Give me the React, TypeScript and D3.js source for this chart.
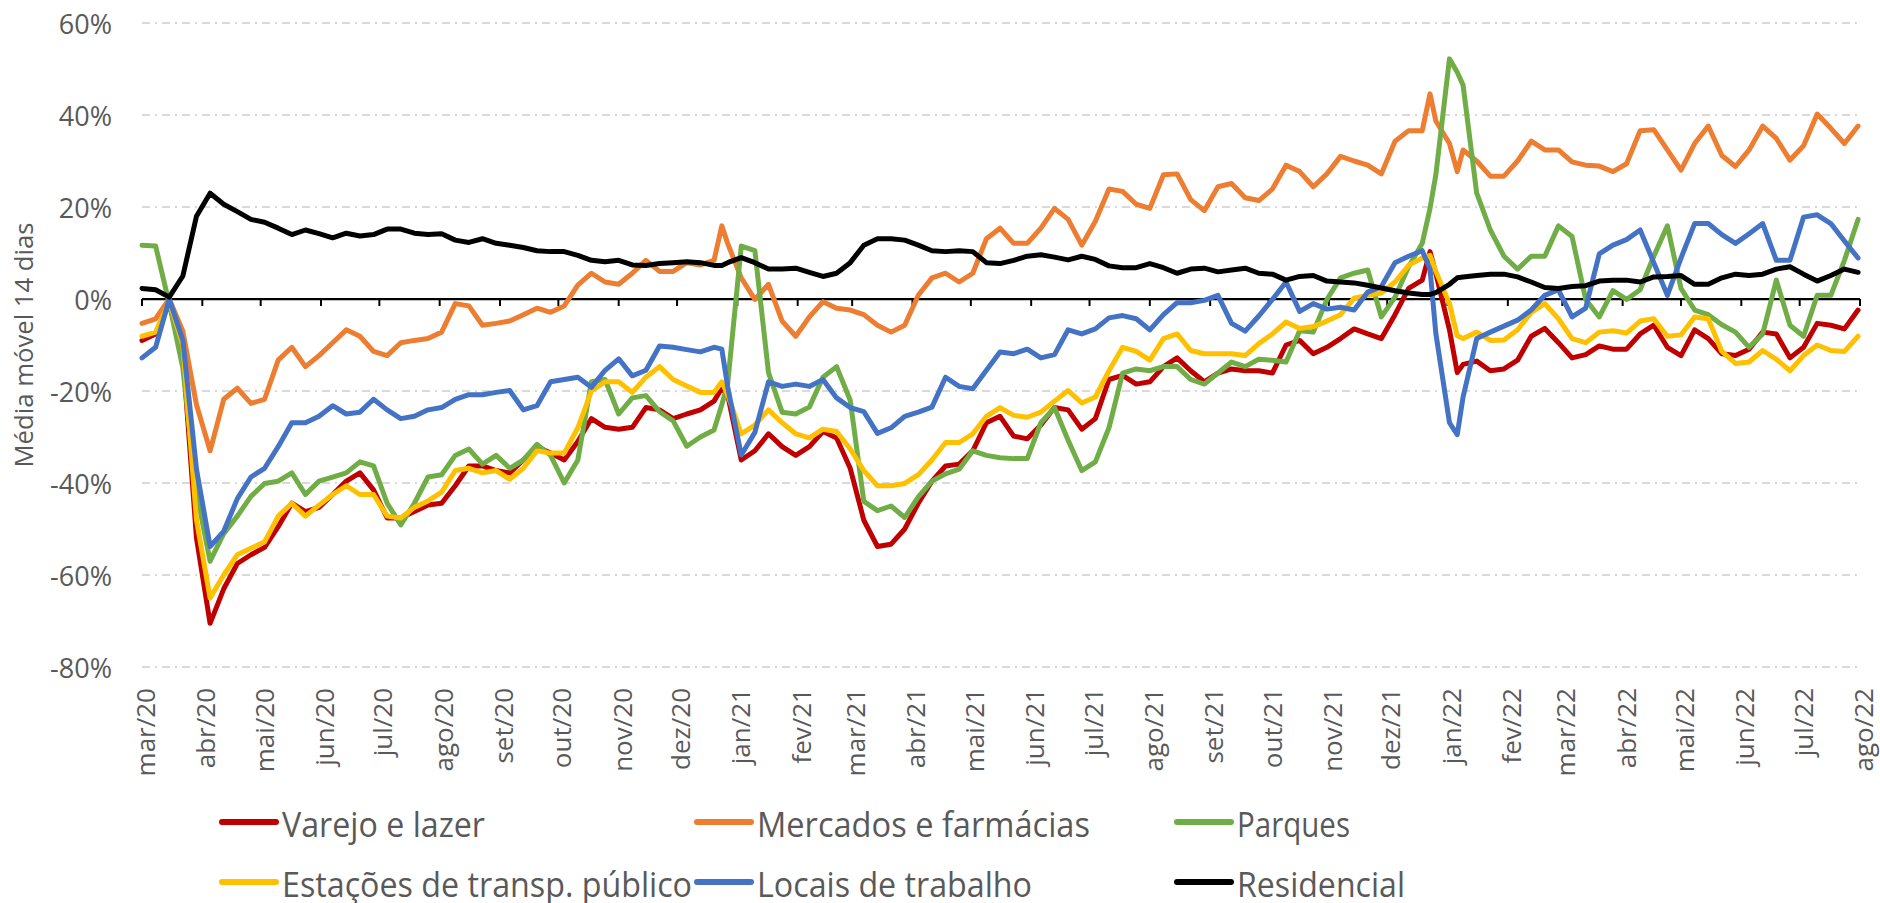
import * as d3 from 'd3'

// dias desde 01/03/2020 (amostra semanal + alguns picos)
const dayOffsets = [
  0, 7, 14, 21, 28, 35, 42, 49, 56, 63, 70, 77, 84, 91, 98, 105, 112, 119, 126, 133, 140, 147, 154, 161, 168, 175, 182, 189, 196, 203, 210, 217, 224,
  231, 238, 245, 252, 259, 266, 273, 280, 287, 294, 298, 301, 308, 315, 322, 329, 336, 343, 350, 357, 364, 371, 378, 385, 392, 399, 406, 413, 420, 427, 434, 441,
  448, 455, 462, 469, 476, 483, 490, 497, 504, 511, 518, 525, 532, 539, 546, 553, 560, 567, 574, 581, 588, 595, 602, 609, 616, 623, 630, 637, 644, 651, 658, 662, 665,
  672, 676, 679, 686, 693, 700, 707, 714, 721, 728, 735, 742, 749, 756, 763, 770, 777, 784, 791, 798, 805, 812, 819, 826, 833, 840, 847, 854, 861, 868, 875, 882,
]

const varejo = [
  -9, -7.6, -1, -12, -52, -70.5, -63, -57.5, -55.6, -54, -49.5, -44.4, -46.2, -45.3, -42.5, -39.6, -37.8, -41.5, -47.6, -47.6, -46.2, -44.8, -44.4, -40.6, -36.3, -36.3, -37.3, -37.8, -35, -32.1, -33.5, -35, -31,
  -26, -27.9, -28.3, -27.9, -23.6, -24.1, -26, -25, -24.1, -22.2, -19.4, -20.8, -35, -33, -29.3, -32.1, -34, -32.1, -28.8, -30.2, -36.8, -48.1, -53.8, -53.3, -50, -44.4, -39.6, -36.3, -35.9, -33, -26.9, -25.5,
  -29.8, -30.4, -27.4, -23.6, -24.1, -28.3, -26, -17.5, -16.6, -18.5, -18, -14.7, -12.8, -15.6, -18, -16.1, -15.2, -15.6, -15.6, -16.1, -10, -9, -11.9, -10.5, -8.6, -6.5, -7.6, -8.6, -3.4, 2.3, 4.1, 10.3, 5.5,
  -6.7, -16, -14.2, -13.5, -15.6, -15.2, -13.3, -8.1, -6.4, -9.5, -12.8, -12.1, -10.2, -10.9, -10.9, -7.6, -5.7, -10.5, -12.3, -6.7, -8.6, -11.9, -12.3, -10.9, -7.2, -7.6, -12.8, -10.5, -5.3, -5.7, -6.5, -2.4,
]

const mercados = [
  -5.3, -4.3, 0, -7, -23, -33, -21.8, -19.4, -22.7, -21.8, -13.3, -10.5, -14.7, -12.3, -9.5, -6.7, -8.1, -11.4, -12.3, -9.5, -9, -8.6, -7.2, -1, -1.5, -5.7, -5.3, -4.8, -3.4, -2, -2.9, -1.5, 3,
  5.6, 3.7, 3.2, 5.6, 8.4, 6, 6, 7.9, 7.4, 8.4, 15.9, 12.1, 4.6, -0.1, 3.2, -4.8, -8.1, -3.9, -0.6, -2, -2.4, -3.4, -5.7, -7.2, -5.7, 0.8, 4.6, 5.6, 3.7, 5.6, 13.1, 15.4,
  12.1, 12.1, 15.4, 19.7, 17.3, 11.7, 16.9, 23.9, 23.4, 20.6, 19.7, 27, 27.2, 21.6, 19.2, 24.4, 25.1, 22, 21.4, 23.9, 29.1, 27.7, 24.4, 27.2, 31, 30, 29.1, 27.2, 34.3, 36.6, 36.6, 44.6, 38.7,
  33.8, 27.7, 32.4, 30, 26.7, 26.7, 30, 34.3, 32.4, 32.4, 29.8, 29.1, 28.9, 27.7, 29.4, 36.6, 36.8, 32.4, 28, 33.8, 37.6, 31.2, 28.8, 32.4, 37.6, 34.9, 30.2, 33.3, 40.2, 37.1, 33.8, 37.6,
]

const parques = [
  11.7, 11.5, -1, -15, -42, -57, -51, -47.2, -42.9, -40.1, -39.6, -37.8, -42.5, -39.6, -38.7, -37.8, -35.4, -36.3, -44.4, -49.1, -44.4, -38.7, -38.2, -34, -32.6, -35.9, -34, -36.8, -35, -31.6, -34, -40, -35,
  -18, -17.5, -25, -21.5, -21, -24.5, -26.5, -32, -30, -28.5, -23, -18.5, 11.5, 10.5, -16, -24.6, -25, -23.5, -17, -14.7, -22, -44, -46, -45, -47.5, -43, -39.6, -38, -37, -33, -34, -34.5,
  -34.7, -34.7, -26.9, -23.6, -30.7, -37.3, -35.4, -28, -16.1, -15.2, -15.6, -14.7, -14.7, -17.5, -18.5, -16.1, -13.7, -14.7, -13.1, -13.3, -13.7, -6.9, -7.2, -0.1, 4.6, 5.6, 6.3, -3.9, 0.4, 7, 12.1, 19.7, 27,
  52.2, 49.3, 46.5, 23, 15, 9.3, 6.5, 9.3, 9.3, 15.9, 13.6, -0.1, -3.9, 1.8, -0.1, 2, 9.3, 15.9, 2.3, -2.4, -3.4, -5.6, -7.2, -10.5, -7.6, 4.1, -5.7, -8.1, 0.8, 0.8, 8.4, 17.3,
]

const estacoes = [
  -8.1, -7.2, -0.5, -10, -48, -65, -60, -55.6, -54.2, -52.8, -47.2, -44.4, -47.2, -44.8, -42.5, -40.6, -42.5, -42.5, -47.2, -47.6, -45.3, -43.9, -42, -37.3, -36.8, -37.8, -37.3, -39.2, -36.8, -33, -33.5, -33.5, -28,
  -20, -18, -18, -20.3, -17, -14.7, -17.5, -18.9, -20.3, -20.3, -18, -20.8, -29.3, -27.4, -24.1, -26.9, -29.3, -30.2, -28.3, -28.8, -32.6, -37.3, -40.6, -40.6, -40.1, -38.2, -35, -31.2, -31.2, -29.3, -25.5, -23.6,
  -25.3, -25.7, -24.6, -22.2, -19.9, -22.6, -21.3, -15.6, -10.5, -11.4, -13.3, -8.6, -7.6, -11.2, -11.9, -11.9, -11.9, -12.3, -9.7, -7.6, -5, -6.4, -6, -4.8, -3.4, 0.2, 0.8, 1.3, 3.7, 7.3, 8.9, 9.5, 6,
  -1, -8, -8.6, -7.2, -9, -8.9, -6.7, -2.9, -1, -4.3, -8.6, -9.5, -7.2, -6.9, -7.4, -4.8, -4.3, -8.1, -7.8, -3.9, -4.3, -11.4, -14, -13.7, -11.2, -13.1, -15.6, -12.3, -10, -11.2, -11.4, -8.1,
]

const locais = [
  -12.8, -10.5, 0, -9, -37, -53.8, -50.5, -43.4, -38.7, -36.8, -32.1, -26.9, -26.9, -25.5, -23.2, -25, -24.6, -21.8, -24.1, -26, -25.5, -24.1, -23.6, -21.8, -20.8, -20.8, -20.3, -19.9, -24.1, -23.2, -18, -17.5, -17,
  -19.2, -15.5, -13, -16.7, -15.5, -10.2, -10.5, -11, -11.5, -10.5, -10.9, -19, -33.9, -29, -18, -19, -18.5, -19, -17.5, -21.5, -23.6, -24.5, -29.2, -28, -25.5, -24.6, -23.5, -17, -19, -19.5, -15.5, -11.5,
  -11.9, -10.9, -12.8, -12.1, -6.7, -7.6, -6.5, -4.1, -3.6, -4.3, -6.7, -3.4, -0.8, -0.8, -0.3, 0.8, -5.3, -7, -3.7, -0.1, 3.7, -2.7, -1, -2.2, -1.8, -2.4, 1.5, 2.7, 7.9, 9.3, 10.5, 6.5, -7.5,
  -26.9, -29.5, -21.3, -8.6, -7.2, -5.9, -4.6, -2.4, 0.8, 2, -3.9, -2, 9.8, 11.7, 12.9, 15, 7.9, 0.8, 8.9, 16.4, 16.4, 14, 12.1, 14.2, 16.4, 8.4, 8.4, 17.8, 18.3, 16.4, 12.6, 8.9,
]

const residencial = [
  2.3, 2, 0.4, 5, 18, 23, 20.6, 19, 17.3, 16.7, 15.4, 14, 15, 14.2, 13.3, 14.3, 13.7, 14, 15.2, 15.2, 14.3, 14, 14.2, 12.8, 12.3, 13.1, 12.1, 11.7, 11.2, 10.5, 10.3, 10.3, 9.5,
  8.4, 8.1, 8.4, 7.4, 7.3, 7.7, 7.9, 8.1, 7.9, 7.3, 7.3, 7.9, 9, 7.9, 6.5, 6.5, 6.7, 5.8, 4.9, 5.6, 7.9, 11.7, 13.1, 13.1, 12.8, 11.7, 10.5, 10.3, 10.5, 10.3, 7.9, 7.7,
  8.4, 9.3, 9.6, 9.1, 8.5, 9.3, 8.6, 7.2, 6.8, 6.8, 7.7, 6.8, 5.6, 6.5, 6.7, 5.9, 6.3, 6.7, 5.6, 5.4, 4.1, 4.9, 5.1, 3.9, 3.7, 3.5, 3, 2.4, 1.8, 1.3, 1, 1, 1.4,
  3.2, 4.6, 4.8, 5.1, 5.4, 5.4, 4.8, 3.7, 2.5, 2.3, 2.7, 2.9, 3.9, 4.1, 4.1, 3.7, 4.8, 4.9, 5.1, 3.2, 3.2, 4.6, 5.4, 5.1, 5.4, 6.5, 7, 5.4, 3.9, 5.1, 6.5, 5.8,
]

const seriesNames = ['Varejo e lazer', 'Mercados e farmácias', 'Parques', 'Estações de transp. público', 'Locais de trabalho', 'Residencial']
const seriesValues = [varejo, mercados, parques, estacoes, locais, residencial]
const seriesColors = ['#C00000', '#ED7D31', '#70AD47', '#FFC000', '#4472C4', '#000000']

const monthLabels = [
  'mar/20', 'abr/20', 'mai/20', 'jun/20', 'jul/20', 'ago/20', 'set/20', 'out/20', 'nov/20', 'dez/20',
  'jan/21', 'fev/21', 'mar/21', 'abr/21', 'mai/21', 'jun/21', 'jul/21', 'ago/21', 'set/21', 'out/21', 'nov/21', 'dez/21',
  'jan/22', 'fev/22', 'mar/22', 'abr/22', 'mai/22', 'jun/22', 'jul/22', 'ago/22',
]
const yTicks = [-80, -60, -40, -20, 0, 20, 40, 60]

// larguras do texto da legenda (fonte condensada no original)
const legendTextWidths = [203, 333, 113, 410, 275, 168]

const startDate = new Date(2020, 2, 1)
const endDate = new Date(2022, 7, 1)
const dates = dayOffsets.map((d) => d3.timeDay.offset(startDate, d))

const FONT = "'Open Sans', sans-serif"
const GREY = '#595959'

export default function App() {
  const x = d3.scaleTime().domain([startDate, endDate]).range([142, 1860])
  const y = d3.scaleLinear().domain([-80, 60]).range([667, 23])

  const line = d3
    .line<number>()
    .x((_, i) => x(dates[i]))
    .y((d) => y(d))

  const months = d3.timeMonth.range(startDate, d3.timeDay.offset(endDate, 1))

  const legendCols = [222, 697, 1177]
  const legendRows = [822, 882]

  return (
    <svg
      width={1880}
      height={903}
      style={{ position: 'absolute', left: 0, top: 0, background: '#fff' }}
    >
      {/* grade */}
      {yTicks
        .filter((t) => t !== 0)
        .map((t) => (
          <line
            key={'g' + t}
            x1={142}
            x2={1860}
            y1={y(t)}
            y2={y(t)}
            stroke="#d9d9d9"
            strokeWidth={2}
            strokeDasharray="8,5,2,5"
          />
        ))}

      {/* rótulos eixo y */}
      {yTicks.map((t) => (
        <text
          key={'yl' + t}
          x={112}
          y={y(t)}
          textAnchor="end"
          dominantBaseline="central"
          fontFamily={FONT}
          fontSize={27}
          fill={GREY}
        >
          {t + '%'}
        </text>
      ))}

      <text
        transform={`translate(23,${(y(60) + y(-80)) / 2}) rotate(-90)`}
        textAnchor="middle"
        dominantBaseline="central"
        fontFamily={FONT}
        fontSize={25}
        fill={GREY}
        textLength={245}
        lengthAdjust="spacingAndGlyphs"
      >
        Média móvel 14 dias
      </text>

      {/* eixo x em 0% */}
      <line x1={142} x2={1860} y1={y(0)} y2={y(0)} stroke="#000" strokeWidth={2.25} />
      {months.map((m, i) => (
        <line key={'t' + i} x1={x(m)} x2={x(m)} y1={y(0)} y2={y(0) + 7} stroke="#000" strokeWidth={2} />
      ))}

      {/* rótulos dos meses */}
      {months.map((m, i) => (
        <text
          key={'ml' + i}
          transform={`translate(${x(m) + 3},688) rotate(-90)`}
          textAnchor="end"
          dominantBaseline="central"
          fontFamily={FONT}
          fontSize={26}
          fill={GREY}
        >
          {monthLabels[i]}
        </text>
      ))}

      {/* séries */}
      {seriesValues.map((vals, i) => (
        <path
          key={'s' + i}
          d={line(vals) || ''}
          fill="none"
          stroke={seriesColors[i]}
          strokeWidth={5}
          strokeLinejoin="round"
          strokeLinecap="round"
        />
      ))}

      {/* legenda */}
      {seriesNames.map((name, i) => {
        const cx = legendCols[i % 3]
        const cy = legendRows[Math.floor(i / 3)]
        return (
          <g key={'lg' + i}>
            <line
              x1={cx}
              x2={cx + 54}
              y1={cy}
              y2={cy}
              stroke={seriesColors[i]}
              strokeWidth={6}
              strokeLinecap="round"
            />
            <text
              x={cx + 60}
              y={cy + 15}
              fontFamily={FONT}
              fontSize={35}
              fill={GREY}
              textLength={legendTextWidths[i]}
              lengthAdjust="spacingAndGlyphs"
            >
              {name}
            </text>
          </g>
        )
      })}
    </svg>
  )
}
